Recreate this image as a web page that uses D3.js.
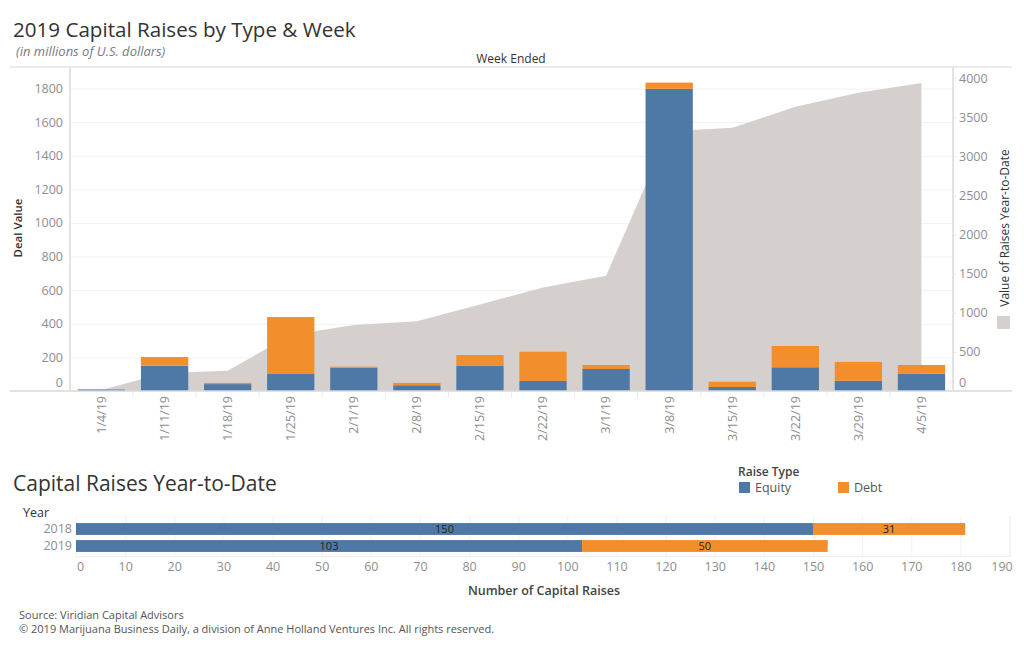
<!DOCTYPE html>
<html>
<head>
<meta charset="utf-8">
<script src="https://cdn.jsdelivr.net/npm/d3@7"></script>
<style>
  body { margin: 0; background: #fff; }
  svg text { font-family: "Open Sans", "Lato", sans-serif; }
</style>
</head>
<body>
<div id="chart"></div>
<script>
/* capital raises chart - weekly bars + ytd area, then yearly counts */

// weekly deal value (millions USD)
let weeks = ["1/4/19", "1/11/19", "1/18/19", "1/25/19", "2/1/19", "2/8/19", "2/15/19",
             "2/22/19", "3/1/19", "3/8/19", "3/15/19", "3/22/19", "3/29/19", "4/5/19"];
let equityValue = [7, 150, 41, 101, 139, 34, 150, 60, 131, 1798, 24, 141, 61, 103];
let debtValue = [5, 52, 7, 339, 6, 14, 64, 174, 24, 37, 31, 127, 112, 52];
let ytdValue = [12, 230, 259, 715, 843, 890, 1105, 1324, 1472, 3320, 3363, 3631, 3810, 3937];
let leftTicks = [0, 200, 400, 600, 800, 1000, 1200, 1400, 1600, 1800];
let rightTicks = [0, 500, 1000, 1500, 2000, 2500, 3000, 3500, 4000];

// counts of raises year to date
let years = ["2018", "2019"];
let equityCount = [150, 103];
let debtCount = [31, 50];
let countTicks = d3.range(0, 200, 10);

let equityColor = "#4e79a7";
let debtColor = "#f28e2b";
let areaColor = "#d5d0ce";
let tickColor = "#8e8e8e";
let titleColor = "#333";

let svg = d3.select("#chart")
    .append("svg")
    .attr("width", 1024)
    .attr("height", 655);

// ****** titles **************
svg.append("text")
    .attr("x", 13)
    .attr("y", 37)
    .attr("font-size", 20.6)
    .attr("fill", titleColor)
    .text("2019 Capital Raises by Type & Week");
svg.append("text")
    .attr("x", 16)
    .attr("y", 56)
    .attr("font-size", 13)
    .attr("font-style", "italic")
    .attr("fill", "#7a7a7a")
    .text("(in millions of U.S. dollars)");
svg.append("text")
    .attr("x", 511)
    .attr("y", 63)
    .attr("font-size", 12)
    .attr("text-anchor", "middle")
    .attr("fill", titleColor)
    .text("Week Ended");

// ****** top chart **************
let plotLeft = 70, plotRight = 953, plotTop = 67, plotBottom = 391;

let x = d3.scaleBand()
    .domain(weeks)
    .range([plotLeft, plotRight])
    .paddingInner(0.25)
    .paddingOuter(0.125);
let yLeft = d3.scaleLinear().domain([0, 1800]).range([plotBottom, 88.5]);
let yRight = d3.scaleLinear().domain([0, 4000]).range([plotBottom, 78]);

// gridlines
svg.append("g")
    .attr("transform", "translate(" + plotLeft + ",0)")
    .call(d3.axisLeft(yLeft).tickValues(leftTicks.slice(1)).tickSize(-(plotRight - plotLeft)).tickFormat(""))
    .call(g => g.select(".domain").remove())
    .call(g => g.selectAll("line").attr("stroke", "#f2f2f2"));

// band separators under the axis
svg.append("g").selectAll("line")
    .data(weeks.slice(1))
    .enter()
    .append("line")
    .attr("x1", d => x(d) - x.step() * x.paddingInner() / 2)
    .attr("x2", d => x(d) - x.step() * x.paddingInner() / 2)
    .attr("y1", plotBottom)
    .attr("y2", plotBottom + 7)
    .attr("stroke", "#ececec");

// ytd area
let area = d3.area()
    .x((d, i) => x(weeks[i]) + x.bandwidth() / 2)
    .y0(yRight(0))
    .y1(d => yRight(d));
svg.append("path")
    .datum(ytdValue)
    .attr("d", area)
    .attr("fill", areaColor);

// stacked bars
let barGroup = svg.append("g").attr("id", "bars");
barGroup.selectAll(".equity")
    .data(weeks)
    .enter()
    .append("rect")
    .attr("class", "equity")
    .attr("x", d => x(d))
    .attr("width", x.bandwidth())
    .attr("y", (d, i) => yLeft(equityValue[i]))
    .attr("height", (d, i) => yLeft(0) - yLeft(equityValue[i]))
    .attr("fill", equityColor);
barGroup.selectAll(".debt")
    .data(weeks)
    .enter()
    .append("rect")
    .attr("class", "debt")
    .attr("x", d => x(d))
    .attr("width", x.bandwidth())
    .attr("y", (d, i) => yLeft(equityValue[i] + debtValue[i]))
    .attr("height", (d, i) => yLeft(equityValue[i]) - yLeft(equityValue[i] + debtValue[i]))
    .attr("fill", debtColor);

// frame lines
svg.append("line")
    .attr("x1", 10).attr("x2", 1012)
    .attr("y1", plotTop).attr("y2", plotTop)
    .attr("stroke", "#d9d9d9");
svg.append("line")
    .attr("x1", 10).attr("x2", 1012)
    .attr("y1", plotBottom).attr("y2", plotBottom)
    .attr("stroke", "#d9d9d9").attr("stroke-width", 1.5);
svg.append("line")
    .attr("x1", plotLeft).attr("x2", plotLeft)
    .attr("y1", plotTop).attr("y2", plotBottom)
    .attr("stroke", "#e3e3e3").attr("stroke-width", 2);
svg.append("line")
    .attr("x1", plotRight).attr("x2", plotRight)
    .attr("y1", plotTop).attr("y2", plotBottom)
    .attr("stroke", "#e3e3e3").attr("stroke-width", 2);

// left axis
let leftAxis = svg.append("g")
    .attr("transform", "translate(" + (plotLeft - 4) + ",0)")
    .call(d3.axisLeft(yLeft).tickValues(leftTicks).tickSize(0).tickPadding(3).tickFormat(d3.format("d")));
leftAxis.select(".domain").remove();
leftAxis.selectAll("text")
    .attr("font-size", 12.5)
    .attr("font-family", "Open Sans")
    .attr("fill", tickColor)
    .attr("dy", d => d == 0 ? "-0.4em" : "0.32em");

// right axis
let rightAxis = svg.append("g")
    .attr("transform", "translate(" + plotRight + ",0)")
    .call(d3.axisRight(yRight).tickValues(rightTicks).tickSize(3).tickPadding(3).tickFormat(d3.format("d")));
rightAxis.select(".domain").remove();
rightAxis.selectAll("line").attr("stroke", "#e3e3e3");
rightAxis.selectAll("text")
    .attr("font-size", 12.5)
    .attr("font-family", "Open Sans")
    .attr("fill", tickColor)
    .attr("dy", d => d == 0 ? "-0.4em" : "0.32em");

// x axis (rotated dates)
let xAxis = svg.append("g")
    .attr("transform", "translate(0," + plotBottom + ")")
    .call(d3.axisBottom(x).tickSize(0));
xAxis.select(".domain").remove();
xAxis.selectAll("text")
    .attr("font-size", 12.5)
    .attr("font-family", "Open Sans")
    .attr("fill", tickColor)
    .attr("transform", "rotate(-90)")
    .attr("text-anchor", "end")
    .attr("x", -5)
    .attr("y", 0)
    .attr("dy", "0.35em");

// axis titles
svg.append("text")
    .attr("transform", "translate(22,228) rotate(-90)")
    .attr("text-anchor", "middle")
    .attr("font-size", 11.5)
    .attr("font-weight", 600)
    .attr("fill", titleColor)
    .text("Deal Value");
svg.append("text")
    .attr("transform", "translate(1009,228) rotate(-90)")
    .attr("text-anchor", "middle")
    .attr("font-size", 12)
    .attr("fill", titleColor)
    .text("Value of Raises Year-to-Date");
svg.append("rect")
    .attr("x", 997).attr("y", 316)
    .attr("width", 13).attr("height", 13)
    .attr("fill", areaColor);

// ****** bottom chart **************
svg.append("text")
    .attr("x", 13)
    .attr("y", 491)
    .attr("font-size", 21)
    .attr("fill", titleColor)
    .text("Capital Raises Year-to-Date");

// legend
svg.append("text")
    .attr("x", 738).attr("y", 476)
    .attr("font-size", 12)
    .attr("font-weight", 600)
    .attr("fill", "#444")
    .text("Raise Type");
let legend = [["Equity", equityColor, 739], ["Debt", debtColor, 838]];
legend.forEach(function (d) {
    svg.append("rect")
        .attr("x", d[2]).attr("y", 482)
        .attr("width", 11).attr("height", 11)
        .attr("fill", d[1]);
    svg.append("text")
        .attr("x", d[2] + 16).attr("y", 492)
        .attr("font-size", 12.5)
        .attr("fill", "#555")
        .text(d[0]);
});

let xB = d3.scaleLinear().domain([0, 190]).range([76, 1009.5]);
let yB = d3.scaleBand().domain(years).range([520.5, 554.5]).paddingInner(0.3).paddingOuter(0.15);

// gridlines
svg.append("g")
    .attr("transform", "translate(0,556)")
    .call(d3.axisBottom(xB).tickValues(countTicks).tickSize(-40).tickFormat(""))
    .call(g => g.select(".domain").attr("stroke", "#ececec"))
    .call(g => g.selectAll("line").attr("stroke", "#f2f2f2"));

svg.append("text")
    .attr("x", 23).attr("y", 517)
    .attr("font-size", 12.5)
    .attr("fill", titleColor)
    .text("Year");

let countBars = svg.append("g");
countBars.selectAll(".eq")
    .data(years)
    .enter()
    .append("rect")
    .attr("x", xB(0))
    .attr("y", d => yB(d))
    .attr("width", (d, i) => xB(equityCount[i]) - xB(0))
    .attr("height", yB.bandwidth())
    .attr("fill", equityColor);
countBars.selectAll(".db")
    .data(years)
    .enter()
    .append("rect")
    .attr("x", (d, i) => xB(equityCount[i]))
    .attr("y", d => yB(d))
    .attr("width", (d, i) => xB(equityCount[i] + debtCount[i]) - xB(equityCount[i]))
    .attr("height", yB.bandwidth())
    .attr("fill", debtColor);
countBars.selectAll(".eqlab")
    .data(years)
    .enter()
    .append("text")
    .attr("x", (d, i) => (xB(0) + xB(equityCount[i])) / 2)
    .attr("y", d => yB(d) + yB.bandwidth() / 2)
    .attr("dy", "0.35em")
    .attr("text-anchor", "middle")
    .attr("font-size", 11)
    .attr("fill", "#222")
    .text((d, i) => equityCount[i]);
countBars.selectAll(".dblab")
    .data(years)
    .enter()
    .append("text")
    .attr("x", (d, i) => (xB(equityCount[i]) + xB(equityCount[i] + debtCount[i])) / 2)
    .attr("y", d => yB(d) + yB.bandwidth() / 2)
    .attr("dy", "0.35em")
    .attr("text-anchor", "middle")
    .attr("font-size", 11)
    .attr("fill", "#222")
    .text((d, i) => debtCount[i]);

// year labels
let yearAxis = svg.append("g")
    .attr("transform", "translate(72,0)")
    .call(d3.axisLeft(yB).tickSize(0).tickPadding(0));
yearAxis.select(".domain").remove();
yearAxis.selectAll("text")
    .attr("font-size", 12.5)
    .attr("font-family", "Open Sans")
    .attr("fill", tickColor);

// count axis
let countAxis = svg.append("g")
    .attr("transform", "translate(0,556)")
    .call(d3.axisBottom(xB).tickValues(countTicks).tickSize(0).tickPadding(6));
countAxis.select(".domain").remove();
countAxis.selectAll("text")
    .attr("font-size", 12.5)
    .attr("font-family", "Open Sans")
    .attr("fill", tickColor)
    .attr("dx", d => d == 0 ? 4 : d == 190 ? -8 : 0);

svg.append("text")
    .attr("x", 544).attr("y", 595)
    .attr("text-anchor", "middle")
    .attr("font-size", 12.5)
    .attr("font-weight", 600)
    .attr("fill", "#444")
    .text("Number of Capital Raises");

// source lines
svg.append("text")
    .attr("x", 19).attr("y", 619)
    .attr("font-size", 11)
    .attr("fill", "#555")
    .text("Source: Viridian Capital Advisors");
svg.append("text")
    .attr("x", 19).attr("y", 633)
    .attr("font-size", 11)
    .attr("fill", "#555")
    .text("\u00a9 2019 Marijuana Business Daily, a division of Anne Holland Ventures Inc. All rights reserved.");
</script>
</body>
</html>
